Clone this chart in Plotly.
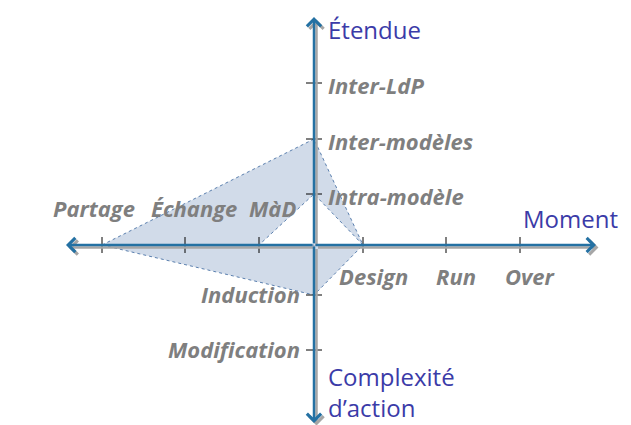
import plotly.graph_objects as go

# tick categories on each half-axis, and their distance from the centre
moment_labels = ["Design", "Run", "Over"]
moment_pos = [49, 132, 206]
nature_labels = ["MàD", "Échange", "Partage"]
nature_pos = [55, 129, 212]
etendue_labels = ["Intra-modèle", "Inter-modèles", "Inter-LdP"]
etendue_pos = [51, 106, 162]
complexite_labels = ["Induction", "Modification"]
complexite_pos = [50, 105]

# profile drawn on the diagram
outer = {"nature": "Partage", "etendue": "Inter-modèles", "moment": "Design", "complexite": "Induction"}
inner = {"nature": "MàD", "etendue": "Intra-modèle", "moment": "Design"}

BLUE = "#2471a3"
SHADOW = "#a6a6a6"
TITLE = "#3b3ba8"
TICKTXT = "#7f7f7f"
FONT = "Open Sans"

# nudges for the crowded labels on the Nature side
nature_label_dx = [13, 9, -8]


def pos(labels, values, name):
    return values[labels.index(name)]


nat_o = -pos(nature_labels, nature_pos, outer["nature"])
ete_o = pos(etendue_labels, etendue_pos, outer["etendue"])
mom_o = pos(moment_labels, moment_pos, outer["moment"])
com_o = -pos(complexite_labels, complexite_pos, outer["complexite"])
nat_i = -pos(nature_labels, nature_pos, inner["nature"])
ete_i = pos(etendue_labels, etendue_pos, inner["etendue"])

fig = go.Figure()

# shaded profile (outer shape with the inner triangle left empty)
px_ = [nat_o, 0, mom_o, 0, nat_i, mom_o, 0, nat_o]
py_ = [0, ete_o, 0, ete_i, 0, 0, com_o, 0]
fig.add_trace(go.Scatter(x=px_, y=py_, mode="lines", fill="toself",
                         fillcolor="rgba(190,204,224,0.7)",
                         line=dict(color="#5a7fae", width=1, dash="dot"),
                         hoverinfo="skip"))

# axes: gray shadow then blue arrow
x_left, x_right = -248, 282
y_top, y_bot = 228, -178
for dx, dy, col in [(2.5, -2.5, SHADOW), (0, 0, BLUE)]:
    for (x0, y0, x1, y1) in [(0, 0, x_right, 0), (0, 0, x_left, 0), (0, 0, 0, y_top), (0, 0, 0, y_bot)]:
        fig.add_annotation(x=x1 + dx, y=y1 + dy, ax=x0 + dx, ay=y0 + dy,
                           xref="x", yref="y", axref="x", ayref="y",
                           showarrow=True, arrowhead=4, arrowsize=1.1,
                           arrowwidth=2.5, arrowcolor=col, text="")

# ticks
tk = 8
for v in moment_pos:
    fig.add_shape(type="line", x0=v, x1=v, y0=-tk, y1=tk, line=dict(color="black", width=1))
for v in nature_pos:
    fig.add_shape(type="line", x0=-v, x1=-v, y0=-tk, y1=tk, line=dict(color="black", width=1))
for v in etendue_pos:
    fig.add_shape(type="line", x0=-tk, x1=tk, y0=v, y1=v, line=dict(color="black", width=1))
for v in complexite_pos:
    fig.add_shape(type="line", x0=-tk, x1=tk, y0=-v, y1=-v, line=dict(color="black", width=1))

tfont = dict(family=FONT, size=22, color=TICKTXT, weight="bold", style="italic")
for lab, v in zip(moment_labels, moment_pos):
    fig.add_annotation(x=v + 10, y=-31, text=lab, showarrow=False, font=tfont,
                       xanchor="center", yanchor="middle")
for lab, v, dx in zip(nature_labels, nature_pos, nature_label_dx):
    fig.add_annotation(x=-v + dx, y=37, text=lab, showarrow=False, font=tfont,
                       xanchor="center", yanchor="middle")
for lab, v in zip(etendue_labels, etendue_pos):
    fig.add_annotation(x=12, y=v - 2, text=lab, showarrow=False, font=tfont,
                       xanchor="left", yanchor="middle")
for lab, v in zip(complexite_labels, complexite_pos):
    fig.add_annotation(x=-12, y=-v + 1, text=lab, showarrow=False, font=tfont,
                       xanchor="right", yanchor="middle")

afont = dict(family=FONT, size=24, color=TITLE)
fig.add_annotation(x=12, y=216, text="Étendue", showarrow=False, font=afont,
                   xanchor="left", yanchor="middle")
fig.add_annotation(x=306, y=27, text="Moment", showarrow=False, font=afont,
                   xanchor="right", yanchor="middle")
fig.add_annotation(x=-307, y=-25, text="Nature", showarrow=False, font=afont,
                   xanchor="left", yanchor="middle")
fig.add_annotation(x=12, y=-131, text="Complexité", showarrow=False, font=afont,
                   xanchor="left", yanchor="middle")
fig.add_annotation(x=12, y=-162, text="d’action", showarrow=False, font=afont,
                   xanchor="left", yanchor="middle")

# page body has an 8px margin, so the figure is 8px smaller than the window
fig.update_layout(
    width=623, height=417,
    margin=dict(l=0, r=0, t=0, b=0),
    paper_bgcolor="white", plot_bgcolor="white",
    showlegend=False,
    xaxis=dict(range=[-306, 317], visible=False, fixedrange=True),
    yaxis=dict(range=[-180, 237], visible=False, fixedrange=True),
)

fig.write_html("out.html")
